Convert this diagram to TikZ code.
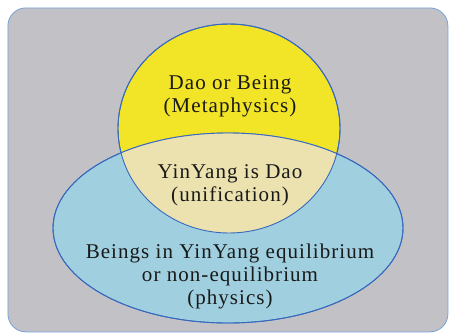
\documentclass[tikz,border=0pt]{standalone}
\usepackage{fontspec}
\setmainfont{Liberation Serif}[LetterSpace=5]
\usepackage{xcolor}
\usetikzlibrary{shapes.geometric,positioning}

\definecolor{bggray}{RGB}{194,194,198}
\definecolor{framerim}{RGB}{120,160,215}
\definecolor{rimblue}{RGB}{55,105,190}
\definecolor{daoyellow}{RGB}{242,228,38}
\definecolor{physblue}{RGB}{160,208,224}
\definecolor{unibeige}{RGB}{236,226,176}

\begin{document}
\begin{tikzpicture}[
            x=1pt, y=-1pt,
            region/.style={ellipse, draw=rimblue, line width=0.9pt, inner sep=0pt},
            rim/.style={draw=rimblue, line width=0.9pt},
            txt/.style={align=center, font=\fontsize{21}{23}\selectfont, text=black!90}
        ]
            \useasboundingbox (0,0) rectangle (449,333);

            % Background
            \node[draw=framerim, line width=0.8pt, fill=bggray, rounded corners=18pt,
                  minimum width=440pt, minimum height=324pt, anchor=north west] (frame) at (7.5,7.5) {};

            % Regions
            \node[region, fill=daoyellow, minimum width=222pt, minimum height=209pt] (dao) at (229,128.5) {};
            \node[region, fill=physblue, minimum width=350pt, minimum height=190pt] (phys) at (228,228) {};

            % Overlap
            \begin{scope}
                \clip (dao.center) ellipse [x radius=111pt, y radius=104.5pt];
                \fill[unibeige] (phys.center) ellipse [x radius=175pt, y radius=95pt];
            \end{scope}
            \draw[rim] (dao.center) ellipse [x radius=111pt, y radius=104.5pt];
            \draw[rim] (phys.center) ellipse [x radius=175pt, y radius=95pt];

            % Labels
            \node[txt] (daotxt) at (230,96) {Dao or Being\\(Metaphysics)};
            \node[txt] (unitxt) at (230,185) {YinYang is Dao\\(unification)};
            \node[txt] (phystxt) at (230,276) {Beings in YinYang equilibrium\\or non-equilibrium\\(physics)};
        \end{tikzpicture}
\end{document}
